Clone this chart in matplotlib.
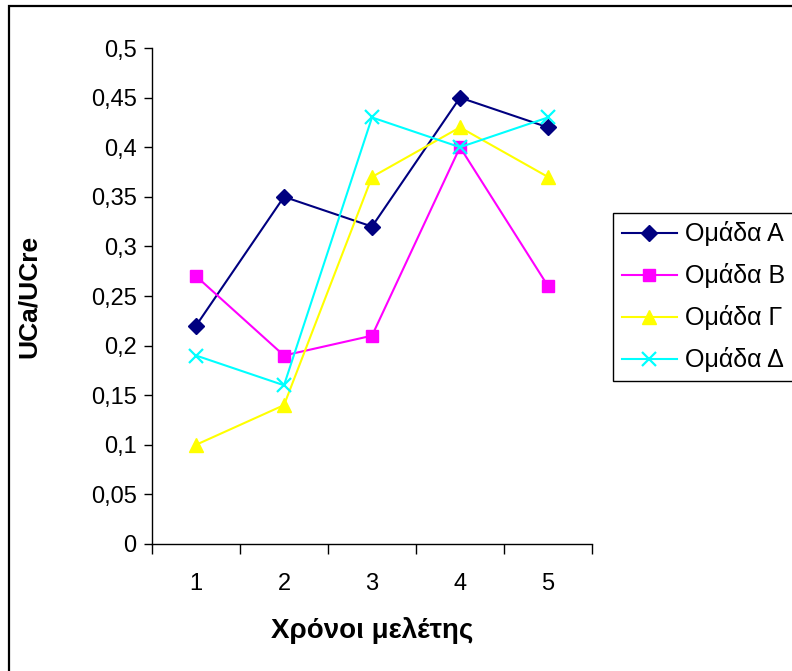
import matplotlib
matplotlib.use("Agg")
import matplotlib.pyplot as plt
from matplotlib.patches import Rectangle
from matplotlib.ticker import FuncFormatter, FixedLocator

plt.rcParams['font.family'] = ['Liberation Sans', 'DejaVu Sans']

# Δεδομένα
years = [1, 2, 3, 4, 5]
group_a = [0.22, 0.35, 0.32, 0.45, 0.42]
group_b = [0.27, 0.19, 0.21, 0.40, 0.26]
group_g = [0.10, 0.14, 0.37, 0.42, 0.37]
group_d = [0.19, 0.16, 0.43, 0.40, 0.43]
labels = ['Ομάδα Α', 'Ομάδα Β', 'Ομάδα Γ', 'Ομάδα Δ']
y_ticks = [0, 0.05, 0.1, 0.15, 0.2, 0.25, 0.3, 0.35, 0.4, 0.45, 0.5]

W, H = 792, 671
fig = plt.figure(figsize=(W / 100, H / 100), dpi=100)
ax = fig.add_axes([152 / W, 1 - 544 / H, 440 / W, 496 / H])

ax.plot(years, group_a, color='#000080', marker='D', markersize=8.5, lw=1.5, label=labels[0])
ax.plot(years, group_b, color='#FF00FF', marker='s', markersize=8, lw=1.5, label=labels[1])
ax.plot(years, group_g, color='#FFFF00', marker='^', markersize=10, lw=1.5, label=labels[2])
ax.plot(years, group_d, color='#00FFFF', marker='x', markersize=9.5, mew=1.6, lw=1.5, label=labels[3])

ax.set_xlim(0.5, 5.5)
ax.set_ylim(0, 0.5)
ax.set_yticks(y_ticks)
ax.yaxis.set_major_formatter(FuncFormatter(lambda v, p: ('%g' % round(v, 2)).replace('.', ',')))
ax.set_xticks(years)
ax.xaxis.set_minor_locator(FixedLocator([0.5, 1.5, 2.5, 3.5, 4.5, 5.5]))
ax.tick_params(axis='x', which='major', length=0, pad=21, labelsize=17)
ax.tick_params(axis='x', which='minor', length=7, width=1, direction='out')
ax.tick_params(axis='y', length=6, width=1, direction='out', pad=5, labelsize=17)

for s in ['top', 'right']:
    ax.spines[s].set_visible(False)
for s in ['left', 'bottom']:
    ax.spines[s].set_linewidth(1)

ax.set_ylabel('UCa/UCre', fontsize=19, fontweight='bold', va='center')
ax.set_xlabel('Χρόνοι μελέτης', fontsize=20, fontweight='bold', va='center')
ax.yaxis.set_label_coords((29 - 152) / 440, 0.5)
ax.xaxis.set_label_coords(0.5, -(631 - 544) / 496)

leg = fig.legend(loc='upper left', bbox_to_anchor=(613 / W, 1 - 213 / H), fontsize=18,
                 frameon=True, fancybox=False, edgecolor='black', framealpha=1,
                 handlelength=2.2, labelspacing=0.68, borderpad=0.34, handletextpad=0.35,
                 borderaxespad=0)
leg.get_frame().set_linewidth(1)

# εξωτερικό πλαίσιο
fig.patches.append(Rectangle((9 / W, -0.1), 1.2, 1 - 6 / H + 0.1, transform=fig.transFigure,
                             fill=False, edgecolor='black', lw=1.6))

fig.savefig('out.png', dpi=100)
